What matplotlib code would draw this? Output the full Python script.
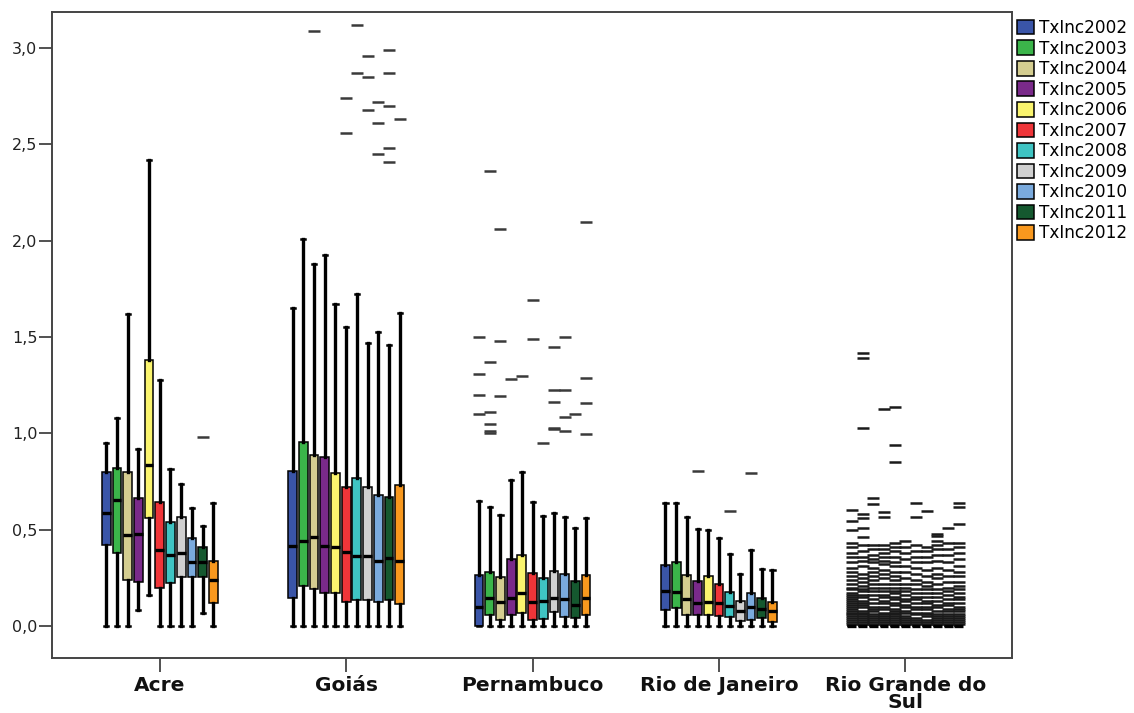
import numpy as np
import matplotlib
matplotlib.use("Agg")
import matplotlib.pyplot as plt
from matplotlib.patches import Patch


# ==========================================================================
# data
# ==========================================================================
states = ["Acre", "Goiás", "Pernambuco", "Rio de Janeiro", "Rio Grande do\nSul"]
years = ["TxInc2002", "TxInc2003", "TxInc2004", "TxInc2005", "TxInc2006", "TxInc2007",
         "TxInc2008", "TxInc2009", "TxInc2010", "TxInc2011", "TxInc2012"]
colors = ["#3a55a8", "#3bb54a", "#d4cd90", "#7a2a8a", "#faf46e", "#ef3539",
          "#3fc4c3", "#d0d0d0", "#7aaadd", "#15582f", "#f8981e"]

acre_lo = [0, 0, 0, 0.083, 0.16, 0, 0, 0, 0, 0.067, 0]
acre_q1 = [0.42, 0.378, 0.24, 0.23, 0.56, 0.197, 0.223, 0.254, 0.254, 0.254, 0.12]
acre_med = [0.586, 0.654, 0.472, 0.477, 0.835, 0.394, 0.368, 0.38, 0.33, 0.33, 0.24]
acre_q3 = [0.80, 0.82, 0.80, 0.664, 1.38, 0.644, 0.54, 0.566, 0.457, 0.41, 0.34]
acre_hi = [0.95, 1.08, 1.62, 0.92, 2.42, 1.276, 0.815, 0.737, 0.612, 0.52, 0.64]

goias_lo = [0] * 11
goias_q1 = [0.146, 0.209, 0.192, 0.171, 0.171, 0.125, 0.136, 0.136, 0.125, 0.136, 0.114]
goias_med = [0.418, 0.443, 0.46, 0.418, 0.41, 0.386, 0.366, 0.366, 0.339, 0.355, 0.339]
goias_q3 = [0.804, 0.955, 0.888, 0.877, 0.794, 0.72, 0.769, 0.72, 0.68, 0.669, 0.73]
goias_hi = [1.65, 2.01, 1.88, 1.926, 1.67, 1.555, 1.724, 1.468, 1.526, 1.458, 1.625]

pern_lo = [0] * 11
pern_q1 = [0.0, 0.057, 0.031, 0.057, 0.069, 0.031, 0.035, 0.074, 0.048, 0.041, 0.057]
pern_med = [0.10, 0.145, 0.126, 0.145, 0.173, 0.126, 0.131, 0.145, 0.14, 0.109, 0.145]
pern_q3 = [0.265, 0.282, 0.256, 0.348, 0.369, 0.277, 0.248, 0.287, 0.27, 0.235, 0.265]
pern_hi = [0.65, 0.617, 0.576, 0.758, 0.80, 0.645, 0.571, 0.586, 0.567, 0.508, 0.56]

rj_lo = [0] * 11
rj_q1 = [0.083, 0.092, 0.057, 0.057, 0.057, 0.054, 0.048, 0.028, 0.031, 0.04, 0.022]
rj_med = [0.183, 0.178, 0.138, 0.121, 0.126, 0.121, 0.104, 0.08, 0.10, 0.087, 0.078]
rj_q3 = [0.317, 0.334, 0.265, 0.235, 0.261, 0.216, 0.178, 0.131, 0.173, 0.147, 0.126]
rj_hi = [0.64, 0.64, 0.564, 0.503, 0.498, 0.455, 0.374, 0.268, 0.394, 0.297, 0.29]

rgs_lo = [0] * 11
rgs_q1 = [0] * 11
rgs_med = [0] * 11
rgs_q3 = [0] * 11
rgs_hi = [0] * 11

# outliers, one list per year
acre_out = [[], [], [], [], [], [], [], [], [], [0.98], []]
goias_out = [[], [], [3.09], [], [], [2.74, 2.56], [3.12, 2.87], [2.96, 2.85, 2.68],
             [2.72, 2.61, 2.45], [2.99, 2.87, 2.70, 2.48, 2.41], [2.63]]
pern_out = [[1.50, 1.31, 1.20, 1.10],
            [2.36, 1.37, 1.11, 1.05, 1.01, 1.00],
            [2.06, 1.48, 1.195],
            [1.28],
            [1.30],
            [1.695, 1.49],
            [0.95],
            [1.45, 1.225, 1.164, 1.03, 1.025],
            [1.50, 1.225, 1.086, 1.013],
            [1.10],
            [2.10, 1.29, 1.156, 0.996]]
rj_out = [[], [], [], [0.806], [], [], [0.598], [], [0.796], [], []]
rgs_out = [[0.60, 0.545, 0.50, 0.43, 0.41, 0.38, 0.36, 0.33, 0.30, 0.28, 0.26, 0.24, 0.22, 0.20, 0.19,
            0.17, 0.16, 0.15, 0.14, 0.13, 0.12, 0.11, 0.10, 0.09, 0.08, 0.07, 0.06, 0.05, 0.04, 0.03, 0.02, 0.01],
           [1.42, 1.39, 1.03, 0.58, 0.56, 0.51, 0.46, 0.42, 0.39, 0.36, 0.34, 0.31, 0.27, 0.25, 0.23, 0.21,
            0.19, 0.18, 0.16, 0.15, 0.13, 0.12, 0.11, 0.10, 0.08, 0.07, 0.06, 0.05, 0.04, 0.03, 0.02, 0.01],
           [0.665, 0.635, 0.42, 0.40, 0.37, 0.35, 0.33, 0.30, 0.28, 0.26, 0.24, 0.22, 0.20, 0.18, 0.16, 0.14,
            0.12, 0.10, 0.09, 0.08, 0.06, 0.05, 0.04, 0.03, 0.02, 0.01],
           [1.125, 0.59, 0.567, 0.42, 0.40, 0.38, 0.36, 0.34, 0.32, 0.29, 0.27, 0.25, 0.22, 0.20, 0.18, 0.16,
            0.15, 0.13, 0.12, 0.10, 0.09, 0.07, 0.06, 0.05, 0.04, 0.03, 0.02, 0.01],
           [1.138, 0.94, 0.85, 0.43, 0.41, 0.39, 0.36, 0.33, 0.31, 0.28, 0.26, 0.24, 0.22, 0.20, 0.18, 0.17,
            0.15, 0.14, 0.12, 0.11, 0.09, 0.08, 0.07, 0.06, 0.05, 0.04, 0.03, 0.02, 0.01],
           [0.44, 0.41, 0.38, 0.35, 0.31, 0.28, 0.25, 0.22, 0.20, 0.18, 0.16, 0.14, 0.13, 0.11, 0.10, 0.08,
            0.07, 0.05, 0.04, 0.03, 0.02, 0.01],
           [0.64, 0.565, 0.42, 0.39, 0.36, 0.33, 0.30, 0.27, 0.24, 0.22, 0.19, 0.17, 0.15, 0.14, 0.12, 0.10,
            0.09, 0.07, 0.06, 0.04, 0.03, 0.02, 0.01],
           [0.595, 0.41, 0.39, 0.36, 0.33, 0.29, 0.26, 0.23, 0.21, 0.19, 0.17, 0.15, 0.13, 0.12, 0.10, 0.09,
            0.07, 0.06, 0.05, 0.03, 0.02, 0.01],
           [0.48, 0.465, 0.44, 0.42, 0.40, 0.37, 0.34, 0.30, 0.27, 0.25, 0.22, 0.19, 0.17, 0.15, 0.13, 0.11,
            0.10, 0.08, 0.06, 0.05, 0.04, 0.03, 0.02, 0.01],
           [0.51, 0.43, 0.40, 0.37, 0.33, 0.29, 0.26, 0.23, 0.20, 0.18, 0.16, 0.14, 0.12, 0.11, 0.09, 0.08,
            0.06, 0.05, 0.04, 0.03, 0.02, 0.01],
           [0.64, 0.62, 0.53, 0.43, 0.41, 0.38, 0.35, 0.31, 0.28, 0.26, 0.23, 0.21, 0.19, 0.17, 0.15, 0.14,
            0.12, 0.10, 0.09, 0.08, 0.06, 0.05, 0.04, 0.03, 0.02, 0.01]]

groups = [
    (acre_lo, acre_q1, acre_med, acre_q3, acre_hi, acre_out),
    (goias_lo, goias_q1, goias_med, goias_q3, goias_hi, goias_out),
    (pern_lo, pern_q1, pern_med, pern_q3, pern_hi, pern_out),
    (rj_lo, rj_q1, rj_med, rj_q3, rj_hi, rj_out),
    (rgs_lo, rgs_q1, rgs_med, rgs_q3, rgs_hi, rgs_out),
]


# ==========================================================================
# plot
# ==========================================================================
fig = plt.figure(figsize=(11.34, 7.13), dpi=100)
ax = fig.add_axes([0.0459, 0.0771, 0.8465, 0.9059])

step = 0.0574
n = len(years)

for g, (lo, q1, med, q3, hi, out) in enumerate(groups):
    stats = []
    for k in range(n):
        stats.append(dict(whislo=lo[k], q1=q1[k], med=med[k], q3=q3[k], whishi=hi[k],
                          fliers=np.array(out[k])))
    pos = g + (np.arange(n) - (n - 1) / 2) * step
    # dense bottom of the last group renders darker in the original
    fc = "#1a1a1a" if g == 4 else "#3a3a3a"
    bp = ax.bxp(stats, positions=pos, widths=0.047, patch_artist=True, showfliers=True,
                manage_ticks=False, capwidths=0.022,
                boxprops=dict(edgecolor="black", linewidth=1.1),
                medianprops=dict(color="black", linewidth=2.4),
                whiskerprops=dict(color="black", linewidth=2.4),
                capprops=dict(color="black", linewidth=1.8),
                flierprops=dict(marker="_", markersize=8.5, markeredgecolor=fc,
                                markeredgewidth=1.8, linestyle="none"))
    for patch, c in zip(bp["boxes"], colors):
        patch.set_facecolor(c)

ax.set_xlim(-0.578, 4.572)
ax.set_ylim(-0.166, 3.187)

ax.set_yticks([0, 0.5, 1.0, 1.5, 2.0, 2.5, 3.0])
ax.set_yticklabels(["0,0", "0,5", "1,0", "1,5", "2,0", "2,5", "3,0"],
                   fontsize=11.5, family="DejaVu Sans", color="#222222")
ax.set_xticks(range(len(states)))
ax.set_xticklabels(states, fontsize=14.5, fontweight="bold", linespacing=0.85,
                   family="DejaVu Sans", color="#111111")
ax.tick_params(axis="y", length=9.5, width=1.2, color="#333333", pad=1)
ax.tick_params(axis="x", length=10, width=1.2, color="#333333", pad=3)
for s in ax.spines.values():
    s.set_color("#444444")
    s.set_linewidth(1.4)

handles = [Patch(facecolor=c, edgecolor="black", linewidth=1.1) for c in colors]
ax.legend(handles, years, loc="upper left", bbox_to_anchor=(1.003, 0.992), frameon=False,
          prop=dict(family="DejaVu Sans", size=12.2),
          handlelength=1.05, handleheight=0.95, handletextpad=0.3, labelspacing=0.15,
          borderaxespad=0.0, borderpad=0.1)

plt.savefig("out.png", dpi=100)
